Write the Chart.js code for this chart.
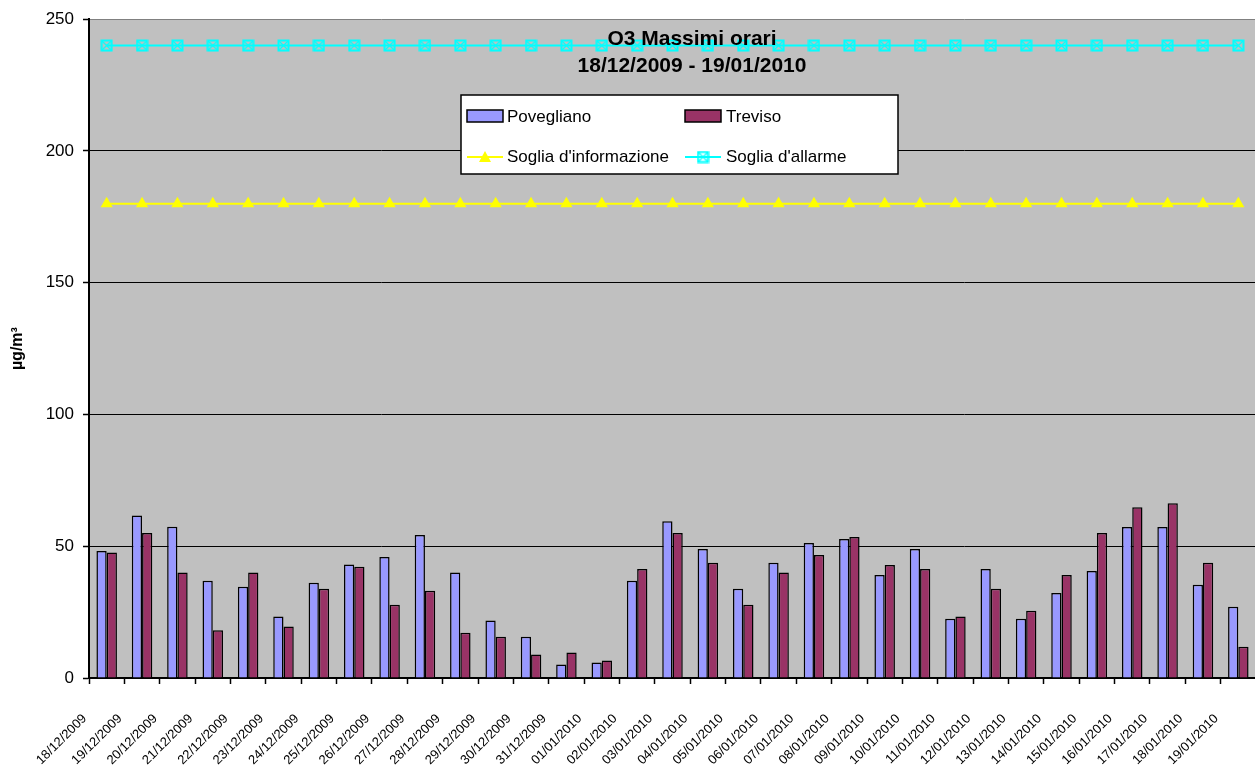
<!DOCTYPE html>
<html lang="it">

<head>
    <meta charset="UTF-8">
    <script src="https://cdn.jsdelivr.net/npm/chart.js"></script>
    <title>O3 Massimi orari</title>
    <style>
        html, body { margin: 0; padding: 0; background: #fff; overflow: hidden; }
        .box { position: relative; width: 1263px; height: 769px; }
    </style>
</head>

<body>
    <div class="box">
        <canvas id="grafico"></canvas>
    </div>
</body>

</html>

<script>
    const giorni = [
        '18/12/2009', '19/12/2009', '20/12/2009', '21/12/2009', '22/12/2009', '23/12/2009', '24/12/2009',
        '25/12/2009', '26/12/2009', '27/12/2009', '28/12/2009', '29/12/2009', '30/12/2009', '31/12/2009',
        '01/01/2010', '02/01/2010', '03/01/2010', '04/01/2010', '05/01/2010', '06/01/2010', '07/01/2010',
        '08/01/2010', '09/01/2010', '10/01/2010', '11/01/2010', '12/01/2010', '13/01/2010', '14/01/2010',
        '15/01/2010', '16/01/2010', '17/01/2010', '18/01/2010', '19/01/2010'
    ]
    const povegliano = [48.2, 61.7, 57.4, 36.9, 34.6, 23.3, 36.1, 43.1, 45.9, 54.3, 40.0, 21.8, 15.7, 5.1,
        5.9, 36.9, 59.5, 49.0, 33.9, 43.7, 51.2, 52.7, 39.1, 49.0, 22.5, 41.4, 22.5, 32.3, 40.6, 57.3, 57.3, 35.4, 27.0]
    const treviso = [47.6, 55.0, 40.0, 18.1, 40.0, 19.5, 33.9, 42.2, 27.8, 33.1, 17.2, 15.7, 8.9, 9.7,
        6.6, 41.4, 55.0, 43.7, 27.8, 40.0, 46.7, 53.5, 42.9, 41.4, 23.3, 33.9, 25.5, 39.1, 55.0, 64.8, 66.3, 43.7, 11.9]
    const sogliaInfo = giorni.map(() => 180)
    const sogliaAllarme = giorni.map(() => 240)
    const tickY = [0, 50, 100, 150, 200, 250]

    const font = "'Liberation Sans', Arial, sans-serif"

    // marker quadrato con la croce (soglia d'allarme)
    function quadratoX(col) {
        const c = document.createElement('canvas')
        c.width = 13; c.height = 13
        const g = c.getContext('2d')
        g.strokeStyle = col
        g.lineWidth = 2
        g.strokeRect(1.5, 1.5, 10, 10)
        g.lineWidth = 1.3
        g.beginPath()
        g.moveTo(2, 2); g.lineTo(11, 11)
        g.moveTo(11, 2); g.lineTo(2, 11)
        g.stroke()
        return c
    }
    const markerAllarme = quadratoX('#00FFFF')

    const sfondo = {
        id: 'sfondo',
        beforeDraw(chart) {
            const { ctx, chartArea: a } = chart
            ctx.save()
            ctx.fillStyle = '#C0C0C0'
            ctx.fillRect(a.left, a.top, a.right - a.left, a.bottom - a.top)
            ctx.restore()
        }
    }

    const titoloLegenda = {
        id: 'titoloLegenda',
        afterDraw(chart) {
            const ctx = chart.ctx
            ctx.save()
            // titolo
            ctx.fillStyle = '#000'
            ctx.font = 'bold 21px ' + font
            ctx.textAlign = 'center'
            ctx.textBaseline = 'middle'
            ctx.fillText('O3 Massimi orari', 692, 39)
            ctx.fillText('18/12/2009 - 19/01/2010', 692, 66)

            // legenda
            ctx.fillStyle = '#fff'
            ctx.fillRect(461, 95, 437, 79)
            ctx.strokeStyle = '#000'
            ctx.lineWidth = 1.5
            ctx.strokeRect(461, 95, 437, 79)

            ctx.font = '17px ' + font
            ctx.textAlign = 'left'
            ctx.lineWidth = 1.5

            ctx.fillStyle = '#9999FF'
            ctx.fillRect(467, 110, 36, 12)
            ctx.strokeRect(467, 110, 36, 12)
            ctx.fillStyle = '#993366'
            ctx.fillRect(685, 110, 36, 12)
            ctx.strokeRect(685, 110, 36, 12)

            ctx.lineWidth = 2
            ctx.strokeStyle = '#FFFF00'
            ctx.beginPath(); ctx.moveTo(467, 157); ctx.lineTo(503, 157); ctx.stroke()
            ctx.fillStyle = '#FFFF00'
            ctx.beginPath(); ctx.moveTo(485, 151); ctx.lineTo(491, 162); ctx.lineTo(479, 162); ctx.closePath(); ctx.fill()
            ctx.strokeStyle = '#00FFFF'
            ctx.beginPath(); ctx.moveTo(685, 157); ctx.lineTo(721, 157); ctx.stroke()
            ctx.drawImage(markerAllarme, 703 - 6.5, 157 - 6.5)

            ctx.fillStyle = '#000'
            ctx.fillText('Povegliano', 507, 117)
            ctx.fillText('Treviso', 726, 117)
            ctx.fillText("Soglia d'informazione", 507, 157)
            ctx.fillText("Soglia d'allarme", 726, 157)
            ctx.restore()
        }
    }

    window.onload = () => {
        plotarGrafico()
    }

    function plotarGrafico() {
        const ctx = document.getElementById('grafico')

        new Chart(ctx, {
            data: {
                labels: giorni,
                datasets: [{
                    type: 'line',
                    label: "Soglia d'informazione",
                    data: sogliaInfo,
                    borderColor: '#FFFF00',
                    backgroundColor: '#FFFF00',
                    borderWidth: 2,
                    pointStyle: 'triangle',
                    pointRadius: 7,
                    pointBorderWidth: 0,
                    order: 0
                }, {
                    type: 'line',
                    label: "Soglia d'allarme",
                    data: sogliaAllarme,
                    borderColor: '#00FFFF',
                    backgroundColor: '#00FFFF',
                    borderWidth: 2,
                    pointStyle: markerAllarme,
                    order: 0
                }, {
                    type: 'bar',
                    label: 'Povegliano',
                    data: povegliano,
                    backgroundColor: '#9999FF',
                    borderColor: '#000',
                    borderWidth: 1.5,
                    categoryPercentage: 0.58,
                    barPercentage: 1,
                    order: 1
                }, {
                    type: 'bar',
                    label: 'Treviso',
                    data: treviso,
                    backgroundColor: '#993366',
                    borderColor: '#000',
                    borderWidth: 1.5,
                    categoryPercentage: 0.58,
                    barPercentage: 1,
                    order: 1
                }]
            },
            options: {
                responsive: true,
                maintainAspectRatio: false,
                animation: false,
                layout: { padding: { top: 16, left: 0, right: 0, bottom: 0 } },
                plugins: {
                    legend: { display: false },
                    title: { display: false },
                    tooltip: { enabled: false }
                },
                scales: {
                    x: {
                        offset: true,
                        afterFit: (s) => {
                            s.height = 91
                            s.paddingLeft = 0
                            s.paddingRight = 0
                        },
                        grid: {
                            offset: true,
                            drawOnChartArea: false,
                            drawTicks: true,
                            tickLength: 6,
                            tickColor: '#000',
                            tickWidth: 1.5
                        },
                        border: { color: '#000', width: 2 },
                        ticks: {
                            autoSkip: false,
                            maxRotation: 45,
                            minRotation: 45,
                            labelOffset: -22,
                            padding: 27,
                            color: '#000',
                            font: { family: font, size: 13 }
                        }
                    },
                    y: {
                        min: 0,
                        max: 250,
                        afterFit: (s) => { s.width = 89 },
                        afterBuildTicks: (s) => { s.ticks = tickY.map(v => ({ value: v })) },
                        grid: {
                            color: (c) => c.tick && c.tick.value === 250 ? '#808080' : '#000',
                            lineWidth: 1,
                            tickLength: 6,
                            tickColor: '#000',
                            tickWidth: 1.5
                        },
                        border: { color: '#000', width: 2 },
                        title: {
                            display: true,
                            text: 'µg/m³',
                            color: '#000',
                            font: { family: font, size: 16, weight: 'bold' },
                            padding: { top: 8, bottom: 0 }
                        },
                        ticks: {
                            padding: 9,
                            color: '#000',
                            font: { family: font, size: 17 }
                        }
                    }
                }
            },
            plugins: [sfondo, titoloLegenda]
        });
    }
</script>
